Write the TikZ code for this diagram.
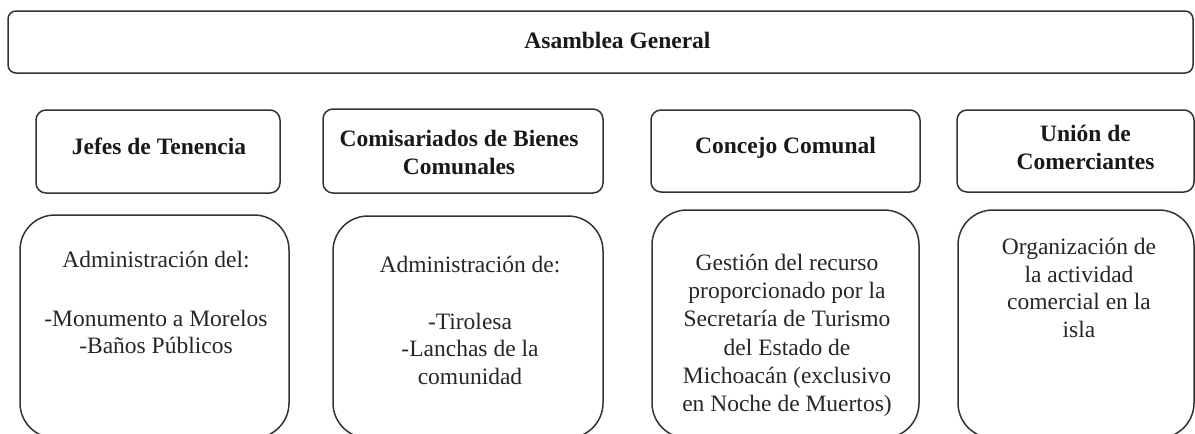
\documentclass[tikz,border=0pt]{standalone}
\usepackage{fontspec}
\setmainfont{Liberation Serif}
\usepackage{tikz}
\usetikzlibrary{positioning}
\tikzstyle{topbox}=[draw=black!80,line width=1.5pt,rounded corners=8pt]
\tikzstyle{headbox}=[draw=black!80,line width=1.5pt,rounded corners=10pt]
\tikzstyle{bodybox}=[draw=black!80,line width=1.5pt,rounded corners=35pt]
\tikzstyle{headtext}=[inner sep=0pt,align=center,text=black!90,font=\fontsize{23.5}{27.6}\selectfont\bfseries]
\tikzstyle{bodytext}=[inner sep=0pt,align=center,text=black!85,font=\fontsize{23.5}{27.6}\selectfont]

\begin{document}
\begin{tikzpicture}[x=1pt,y=-1pt]
        \useasboundingbox (0,0) rectangle (1195,434);

        % asamblea
        \node[topbox,minimum width=1185pt,minimum height=62pt] (ag) at (600.5,42) {};
        \node[headtext,below=22pt of ag.north,xshift=17pt] (agt) {Asamblea General};

        % organos
        \node[headbox,minimum width=244pt,minimum height=83pt] (h1) at (158,151.5) {};
        \node[headbox,minimum width=280pt,minimum height=84pt] (h2) at (463,151) {};
        \node[headbox,minimum width=269pt,minimum height=82pt] (h3) at (785.5,151) {};
        \node[headbox,minimum width=237pt,minimum height=82pt] (h4) at (1075.5,151) {};

        \node[headtext,below=29pt of h1.north,xshift=1pt] (h1t) {Jefes de Tenencia};
        \node[headtext,below=22pt of h2.north,xshift=-4pt] (h2t) {Comisariados de Bienes\\Comunales};
        \node[headtext,below=28pt of h3.north] (h3t) {Concejo Comunal};
        \node[headtext,below=16pt of h4.north,xshift=10pt] (h4t) {Unión de\\Comerciantes};

        % funciones
        \node[bodybox,minimum width=269pt,minimum height=223pt] (b1) at (154.5,326.5) {};
        \node[bodybox,minimum width=270pt,minimum height=222pt] (b2) at (468,327) {};
        \node[bodybox,minimum width=267pt,minimum height=228pt] (b3) at (785.5,324) {};
        \node[bodybox,minimum width=236pt,minimum height=228pt] (b4) at (1076,324) {};

        \node[bodytext,below=37pt of b1.north,xshift=1.5pt] (b1t)
            {Administración del:\\[31pt]-Monumento a Morelos\\-Baños Públicos};
        \node[bodytext,below=41pt of b2.north,xshift=2pt] (b2t)
            {Administración de:\\[29pt]-Tirolesa\\-Lanchas de la\\comunidad};
        \node[bodytext,below=45pt of b3.north,xshift=1.5pt] (b3t)
            {Gestión del recurso\\[0.5pt]proporcionado por la\\[0.5pt]Secretaría de Turismo\\[0.5pt]del Estado de\\[0.5pt]Michoacán (exclusivo\\[0.5pt]en Noche de Muertos)};
        \node[bodytext,below=29pt of b4.north,xshift=3pt] (b4t)
            {Organización de\\la actividad\\comercial en la\\isla};
\end{tikzpicture}
\end{document}
